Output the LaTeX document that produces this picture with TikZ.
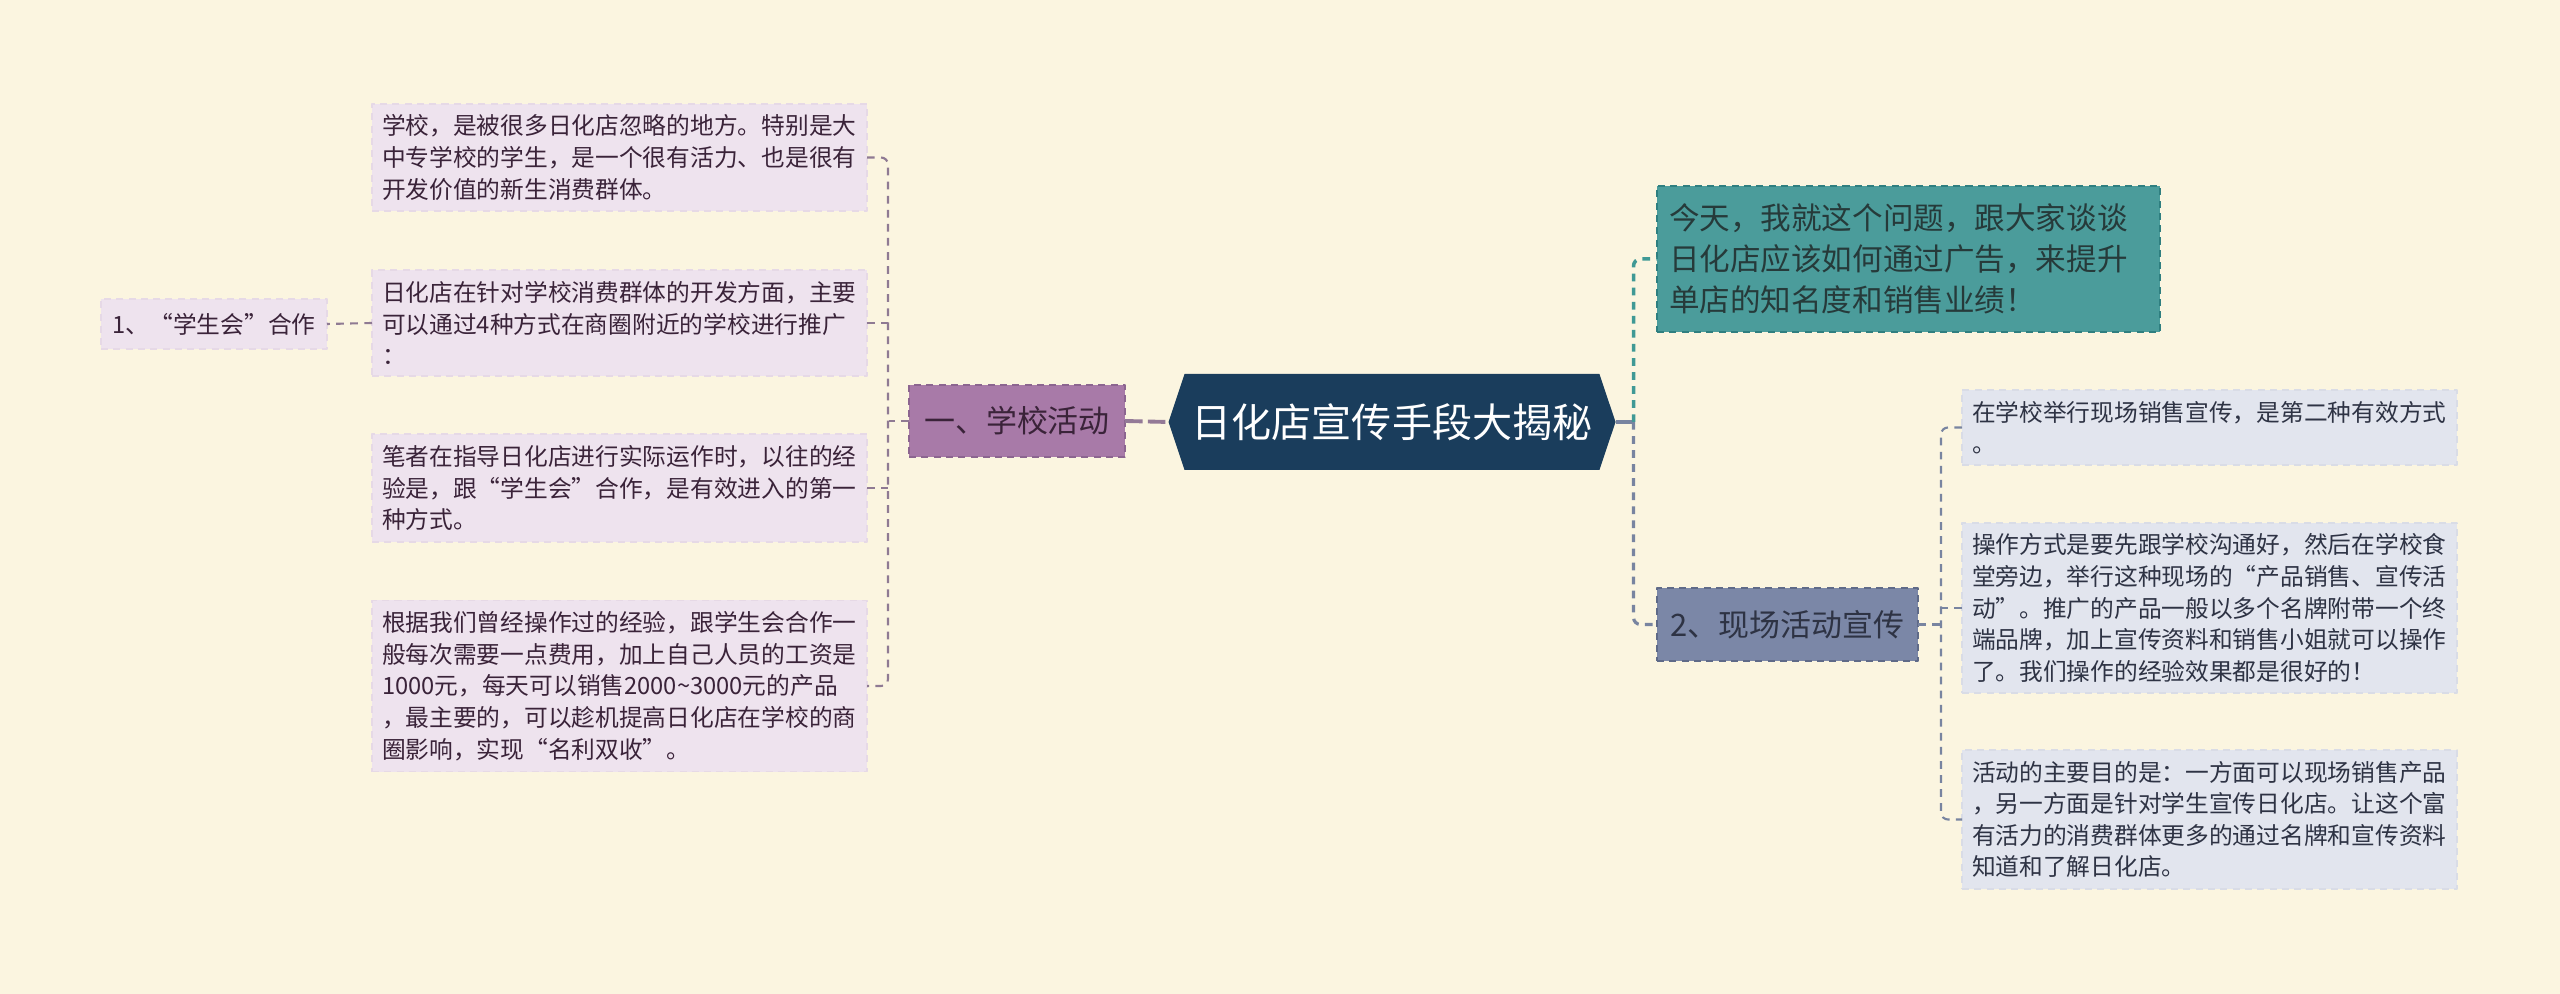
\documentclass[tikz,border=0pt]{standalone}
\usepackage{fontspec}
\setmainfont{Noto Sans CJK SC}
\usetikzlibrary{shapes.symbols,calc}
\definecolor{MapPaper}{HTML}{FBF5E0}
\definecolor{RootFill}{HTML}{1A3D5C}
\definecolor{SchoolFill}{HTML}{A87AA8}
\definecolor{SchoolEdge}{HTML}{8C6590}
\definecolor{SchoolInk}{HTML}{3A2339}
\definecolor{SchoolLeaf}{HTML}{EEE3EE}
\definecolor{SchoolLeafEdge}{HTML}{E6D9E6}
\definecolor{SchoolLine}{HTML}{8F7A93}
\definecolor{TealFill}{HTML}{4B9C9B}
\definecolor{TealEdge}{HTML}{2F7F80}
\definecolor{TealInk}{HTML}{263A3A}
\definecolor{TealLine}{HTML}{3F9995}
\definecolor{LiveFill}{HTML}{7B87A7}
\definecolor{LiveEdge}{HTML}{5F6A88}
\definecolor{LiveInk}{HTML}{2E3344}
\definecolor{LiveLeaf}{HTML}{E2E5EE}
\definecolor{LiveLeafEdge}{HTML}{D9DCE6}
\definecolor{LiveLine}{HTML}{7884A0}
\tikzset{
    mind/map/.style={
        line join=round,
        every node/.style={outer sep=0pt}
    },
    mind/root/.style={
        signal, signal to=east and west, signal pointer angle=143,
        fill=RootFill, text=white, inner sep=0pt,
        minimum width=4.47cm, minimum height=0.96cm,
        font=\fontsize{11.4}{13}\selectfont
    },
    mind/topic/.style={
        line width=0.5pt, dash pattern=on 2pt off 1.5pt,
        inner sep=0pt, font=\fontsize{8.8}{11}\selectfont
    },
    mind/leaf/.style={
        line width=0.5pt, dash pattern=on 2pt off 1.5pt,
        text width=4.75cm, align=left, inner xsep=0.1cm, inner ysep=0.11cm,
        font=\fontsize{6.75}{9}\selectfont
    },
    mind/schoolleaf/.style={mind/leaf, fill=SchoolLeaf, draw=SchoolLeafEdge, text=SchoolInk},
    mind/liveleaf/.style={mind/leaf, fill=LiveLeaf, draw=LiveLeafEdge, text=LiveInk},
    mind/trunk/.style={line width=1.1pt},
    mind/twig/.style={line width=0.6pt, dash pattern=on 2.2pt off 1.8pt, rounded corners=2pt}
}
\begin{document}
\begin{tikzpicture}[mind/map]
    \fill[MapPaper] (0,0) rectangle (25.6,-9.94);
    \useasboundingbox (0,0) rectangle (25.6,-9.94);

    \node[mind/root] (root) at (13.92,-4.22) {日化店宣传手段大揭秘};

    \node[mind/topic, fill=SchoolFill, draw=SchoolEdge, text=SchoolInk,
        minimum width=2.16cm, minimum height=0.72cm] (school) at (10.17,-4.21) {一、学校活动};
    \node[mind/schoolleaf] (place) at (6.195,-1.575)
        {学校，是被很多日化店忽略的地方。特别是大\\中专学校的学生，是一个很有活力、也是很有\\开发价值的新生消费群体。};
    \node[mind/schoolleaf] (ways) at (6.195,-3.23)
        {日化店在针对学校消费群体的开发方面，主要\\可以通过4种方式在商圈附近的学校进行推广\\：};
    \node[mind/schoolleaf] (union) at (6.195,-4.88)
        {笔者在指导日化店进行实际运作时，以往的经\\验是，跟“学生会”合作，是有效进入的第一\\种方式。};
    \node[mind/schoolleaf] (cost) at (6.195,-6.86)
        {根据我们曾经操作过的经验，跟学生会合作一\\般每次需要一点费用，加上自己人员的工资是\\1000元，每天可以销售2000\textasciitilde3000元的产品\\，最主要的，可以趁机提高日化店在学校的商\\圈影响，实现“名利双收”。};
    \node[mind/schoolleaf, text width=, minimum width=2.26cm, minimum height=0.5cm,
        inner sep=0pt, align=center] (coop) at (2.14,-3.24) {1、“学生会”合作};

    \node[mind/topic, fill=TealFill, draw=TealEdge, text=TealInk,
        text width=4.79cm, align=left, inner xsep=0.12cm, inner ysep=0.18cm,
        font=\fontsize{8.7}{11.6}\selectfont] (intro) at (19.085,-2.59)
        {今天，我就这个问题，跟大家谈谈\\日化店应该如何通过广告，来提升\\单店的知名度和销售业绩！};
    \node[mind/topic, fill=LiveFill, draw=LiveEdge, text=LiveInk,
        minimum width=2.61cm, minimum height=0.73cm] (live) at (17.875,-6.245) {2、现场活动宣传};
    \node[mind/liveleaf] (second) at (22.095,-4.275)
        {在学校举行现场销售宣传，是第二种有效方式\\。};
    \node[mind/liveleaf] (canteen) at (22.095,-6.08)
        {操作方式是要先跟学校沟通好，然后在学校食\\堂旁边，举行这种现场的“产品销售、宣传活\\动”。推广的产品一般以多个名牌附带一个终\\端品牌，加上宣传资料和销售小姐就可以操作\\了。我们操作的经验效果都是很好的！};
    \node[mind/liveleaf] (aim) at (22.095,-8.195)
        {活动的主要目的是：一方面可以现场销售产品\\，另一方面是针对学生宣传日化店。让这个富\\有活力的消费群体更多的通过名牌和宣传资料\\知道和了解日化店。};

    \coordinate (rhub) at ([xshift=0.18cm]root.east);
    \draw[mind/trunk, SchoolLine!80!SchoolFill, dash pattern=on 5pt off 1.5pt] (school.east) -- (root.west);
    \draw[mind/twig, SchoolLine] (school.west) -- ++(-0.2,0);
    \draw[mind/twig, SchoolLine] (place.east) -- ++(0.21,0) |- (cost.east);
    \draw[mind/twig, SchoolLine] (ways.east) -- ++(0.21,0);
    \draw[mind/twig, SchoolLine] (union.east) -- ++(0.21,0);
    \draw[mind/twig, SchoolLine] (ways.west) -- (coop.east);

    \draw[mind/trunk, LiveLine] (root.east) -- (rhub);
    \draw[mind/twig, TealLine, line width=1pt] (rhub) |- (intro.west);
    \draw[mind/twig, LiveLine, line width=0.9pt] (rhub) |- (live.west);
    \draw[mind/twig, LiveLine] (live.east) -- ++(0.23,0);
    \draw[mind/twig, LiveLine] (second.west) -- ++(-0.21,0) |- (aim.west);
    \draw[mind/twig, LiveLine] (canteen.west) -- ++(-0.21,0);
\end{tikzpicture}
\end{document}
